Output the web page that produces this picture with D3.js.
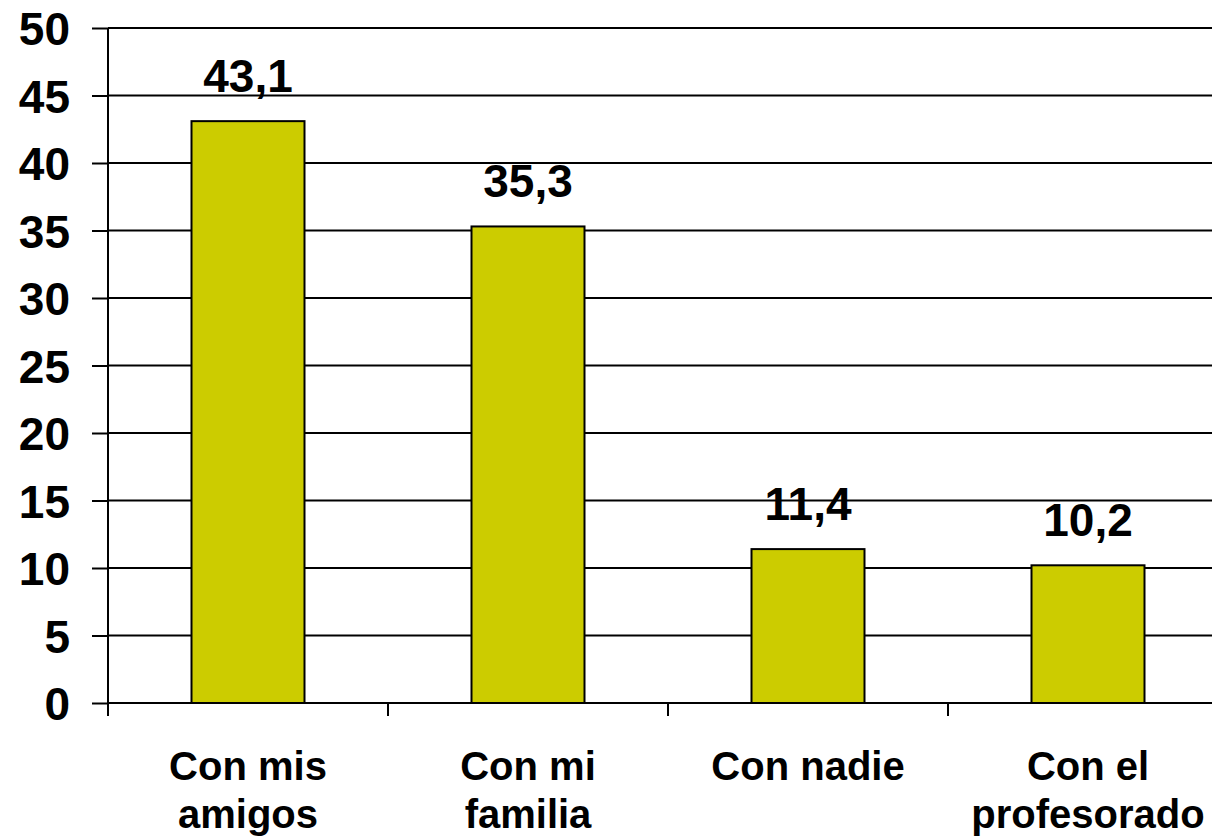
<!DOCTYPE html>
<html><head><meta charset="utf-8">
<script src="https://cdn.jsdelivr.net/npm/d3@7"></script>
<style>body{margin:0;background:#fff}svg{display:block}</style>
</head><body>
<script>
const categories = [["Con mis","amigos"],["Con mi","familia"],["Con nadie"],["Con el","profesorado"]];
const values = [43.1, 35.3, 11.4, 10.2];
const valueLabels = ["43,1","35,3","11,4","10,2"];
const yTicks = [0,5,10,15,20,25,30,35,40,45,50];

const W = 1212, H = 840;
const svg = d3.select("body").append("svg").attr("width", W).attr("height", H);
const font = "'Liberation Sans', Arial, sans-serif";

const x0 = 108, x1 = 1228;
const y = d3.scaleLinear().domain([0,50]).range([703,28]);
const x = d3.scaleBand().domain(d3.range(values.length)).range([x0,x1]).paddingInner(0).paddingOuter(0);
const barW = 113;

// gridlines
svg.append("g").selectAll("line").data(yTicks.filter(d=>d>0)).join("line")
  .attr("x1", x0).attr("x2", W).attr("y1", d=>y(d)).attr("y2", d=>y(d))
  .attr("stroke","#000").attr("stroke-width",2);

// y axis
const ya = svg.append("g").attr("transform",`translate(${x0},0)`)
  .call(d3.axisLeft(y).tickValues(yTicks).tickSize(16).tickPadding(22));
ya.select(".domain").attr("stroke","#000").attr("stroke-width",2).attr("d",`M-0,${y(50)}V${y(0)}`);
ya.selectAll(".tick line").attr("stroke","#000").attr("stroke-width",2);
ya.selectAll(".tick text").attr("font-family",font).attr("font-weight","bold")
  .attr("font-size",46).attr("fill","#000").attr("dy","0.36em");

// bars
svg.append("g").selectAll("rect").data(values).join("rect")
  .attr("x",(d,i)=>x(i)+x.bandwidth()/2-barW/2).attr("width",barW)
  .attr("y",d=>y(d)).attr("height",d=>y(0)-y(d))
  .attr("fill","#CCCC00").attr("stroke","#000").attr("stroke-width",2);

// x axis
svg.append("line").attr("x1",x0).attr("x2",W).attr("y1",y(0)).attr("y2",y(0))
  .attr("stroke","#000").attr("stroke-width",2);
svg.append("g").selectAll("line").data(d3.range(values.length+1)).join("line")
  .attr("x1",i=>x0+i*x.bandwidth()).attr("x2",i=>x0+i*x.bandwidth())
  .attr("y1",y(0)).attr("y2",y(0)+13).attr("stroke","#000").attr("stroke-width",2);

// value labels
svg.append("g").selectAll("text").data(values).join("text")
  .attr("x",(d,i)=>x(i)+x.bandwidth()/2).attr("y",d=>y(d)-29)
  .attr("text-anchor","middle").attr("font-family",font).attr("font-weight","bold")
  .attr("font-size",46).text((d,i)=>valueLabels[i]);

// category labels
const cl = svg.append("g").selectAll("text").data(categories).join("text")
  .attr("x",(d,i)=>x(i)+x.bandwidth()/2).attr("y",780)
  .attr("text-anchor","middle").attr("font-family",font).attr("font-weight","bold")
  .attr("font-size",40);
cl.selectAll("tspan").data(d=>d).join("tspan")
  .attr("x",function(){return this.parentNode.getAttribute("x");})
  .attr("dy",(d,i)=>i===0?0:48).text(d=>d);
</script>
</body></html>
